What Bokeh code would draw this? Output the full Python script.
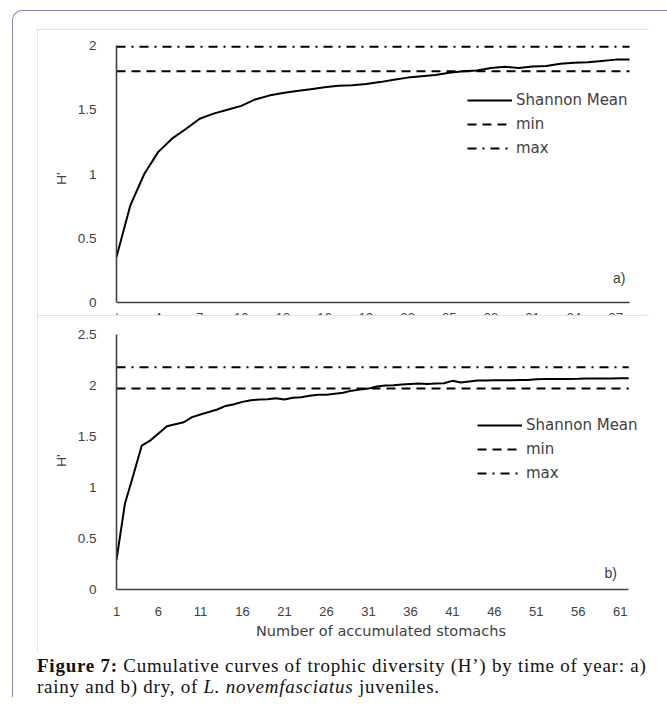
from bokeh.plotting import figure
from bokeh.models import (Range1d, FixedTicker, Legend, LegendItem, Label, Div,
                          CustomJSTickFormatter)
from bokeh.layouts import column
from bokeh.embed import file_html
from bokeh.resources import INLINE
from bokeh.core.properties import value

# ---------------- data: panel a) rainy ----------------
n_a = list(range(1, 39))
h_mean_a = [0.355, 0.756, 1.00, 1.17, 1.275, 1.35, 1.43, 1.47, 1.50, 1.53,
            1.58, 1.61, 1.63, 1.645, 1.66, 1.675, 1.686, 1.69, 1.70, 1.715,
            1.733, 1.75, 1.76, 1.77, 1.787, 1.80, 1.806, 1.824, 1.834, 1.824,
            1.837, 1.84, 1.857, 1.865, 1.87, 1.88, 1.89, 1.89]
h_min_a = 1.80
h_max_a = 1.99
xticks_a = list(range(1, 38, 3))
yticks_a = [0, 0.5, 1, 1.5, 2]

# ---------------- data: panel b) dry ----------------
n_b = list(range(1, 63))
h_mean_b = [0.29, 0.84, 1.12, 1.41, 1.46, 1.53, 1.60, 1.62, 1.64, 1.69,
            1.716, 1.74, 1.765, 1.80, 1.817, 1.84, 1.856, 1.863, 1.866, 1.876,
            1.863, 1.88, 1.885, 1.90, 1.91, 1.91, 1.92, 1.93, 1.95, 1.96,
            1.97, 1.99, 2.00, 2.003, 2.01, 2.016, 2.02, 2.016, 2.02, 2.023,
            2.046, 2.03, 2.04, 2.05, 2.05, 2.052, 2.052, 2.052, 2.055, 2.055,
            2.062, 2.065, 2.065, 2.065, 2.065, 2.066, 2.068, 2.07, 2.07, 2.07,
            2.072, 2.072]
h_min_b = 1.97
h_max_b = 2.18
xticks_b = list(range(1, 62, 5))
yticks_b = [0, 0.5, 1, 1.5, 2, 2.5]

series_labels = ["Shannon Mean", "min", "max"]
x_title = "Number of accumulated stomachs"
y_title = "H'"

AX = "#404040"
TICK_FONT = "Liberation Sans"
LEG_FONT = "DejaVu Sans"
BOX = {"outline": "1px solid #d9d9d9", "outline-offset": "-1px"}


def style_common(p, yticks, ybounds):
    p.background_fill_color = "white"
    p.border_fill_color = "white"
    p.outline_line_color = None
    p.grid.visible = False
    ya = p.yaxis[0]
    ya.ticker = FixedTicker(ticks=yticks)
    ya.formatter = CustomJSTickFormatter(code="return tick.toString()")
    ya.bounds = ybounds
    ya.axis_line_color = AX
    ya.axis_line_width = 1.6
    ya.major_tick_line_color = None
    ya.minor_tick_line_color = None
    ya.major_label_standoff = 14
    ya.major_label_text_font = TICK_FONT
    ya.major_label_text_font_size = "13.5px"
    ya.major_label_text_color = AX
    ya.axis_label = y_title
    ya.axis_label_text_font = TICK_FONT
    ya.axis_label_text_font_size = "13.5px"
    ya.axis_label_text_font_style = "normal"
    ya.axis_label_text_color = AX
    ya.axis_label_standoff = 6


def add_series(p, n, mean, mn, mx, loc, tag, tag_xy):
    r1 = p.line(n, mean, line_color="black", line_width=2)
    r2 = p.line(n, [mn] * len(n), line_color="black", line_width=2, line_dash="9 6")
    r3 = p.line(n, [mx] * len(n), line_color="black", line_width=2, line_dash="9 6 2 6")
    leg = Legend(items=[LegendItem(label=series_labels[0], renderers=[r1]),
                        LegendItem(label=series_labels[1], renderers=[r2]),
                        LegendItem(label=series_labels[2], renderers=[r3])],
                 location=loc, border_line_color=None, background_fill_alpha=0,
                 padding=0, margin=0, glyph_width=45, glyph_height=20,
                 label_height=20, spacing=4, label_standoff=4,
                 label_text_font=LEG_FONT, label_text_font_size="15px",
                 label_text_color=AX)
    p.add_layout(leg)
    p.add_layout(Label(x=tag_xy[0], y=tag_xy[1], text=tag, text_align="right",
                       text_baseline="middle", text_font=TICK_FONT,
                       text_font_size="14px", text_color=AX))


# ---------------- panel a ----------------
ya_start = -0.101
p1 = figure(width=612, height=286, x_range=Range1d(1, 39.15),
            y_range=Range1d(ya_start, 2.031), x_axis_location=None,
            output_backend="svg", toolbar_location=None,
            min_border_left=79, min_border_right=4, min_border_top=12,
            min_border_bottom=0, styles=BOX)
style_common(p1, yticks_a, (0, 2))
# x axis baseline of panel a (its tick labels are cut off by panel b, as in the source)
p1.line(x=[n_a[0], n_a[-1]], y=[yticks_a[0]] * 2, line_color=AX, line_width=1.6)
add_series(p1, n_a, h_mean_a, h_min_a, h_max_a, (351, 157), "a)", (37.7, 0.187))
p1.text(x=xticks_a, y=[ya_start] * len(xticks_a), text=[str(t) for t in xticks_a],
        text_align="center", text_baseline="top", y_offset=-3,
        text_font=value(TICK_FONT), text_font_size="13px", text_color=AX)

# ---------------- panel b ----------------
p2 = figure(width=612, height=338, x_range=Range1d(1, 64),
            y_range=Range1d(0, 2.53),
            output_backend="svg", toolbar_location=None,
            min_border_left=79, min_border_right=4, min_border_top=16,
            min_border_bottom=64, styles=BOX)
style_common(p2, yticks_b, (0, 2.5))
xa = p2.xaxis[0]
xa.ticker = FixedTicker(ticks=xticks_b)
xa.bounds = (1, 62)
xa.axis_line_color = AX
xa.axis_line_width = 1.6
xa.major_tick_line_color = None
xa.minor_tick_line_color = None
xa.major_label_standoff = 11
xa.major_label_text_font = TICK_FONT
xa.major_label_text_font_size = "13px"
xa.major_label_text_color = AX
xa.axis_label = x_title
xa.axis_label_text_font = LEG_FONT
xa.axis_label_text_font_size = "14.5px"
xa.axis_label_text_font_style = "normal"
xa.axis_label_text_color = AX
xa.axis_label_standoff = 4
add_series(p2, n_b, h_mean_b, h_min_b, h_max_b, (361, 106), "b)", (60.6, 0.157))

caption = Div(text="<b>Figure 7:</b> Cumulative curves of trophic diversity (H\u2019) by time of "
                   "year: a) rainy and b) dry, of <i>L. novemfasciatus</i> juveniles.",
              width=618, margin=(3, 0, 0, 0),
              styles={"font-family": "'Liberation Serif', serif", "font-size": "19px",
                      "letter-spacing": "0.75px",
                      "line-height": "20.5px", "color": "#111"})

layout = column(p1, p2, caption, width=667,
                styles={"border-left": "1.5px solid #8884bd",
                        "border-top": "1.5px solid #8884bd",
                        "border-top-left-radius": "10px",
                        "margin-left": "12px", "margin-top": "10px",
                        "padding-left": "24px", "padding-top": "18px"})

open("out.html", "w").write(file_html(layout, INLINE))
